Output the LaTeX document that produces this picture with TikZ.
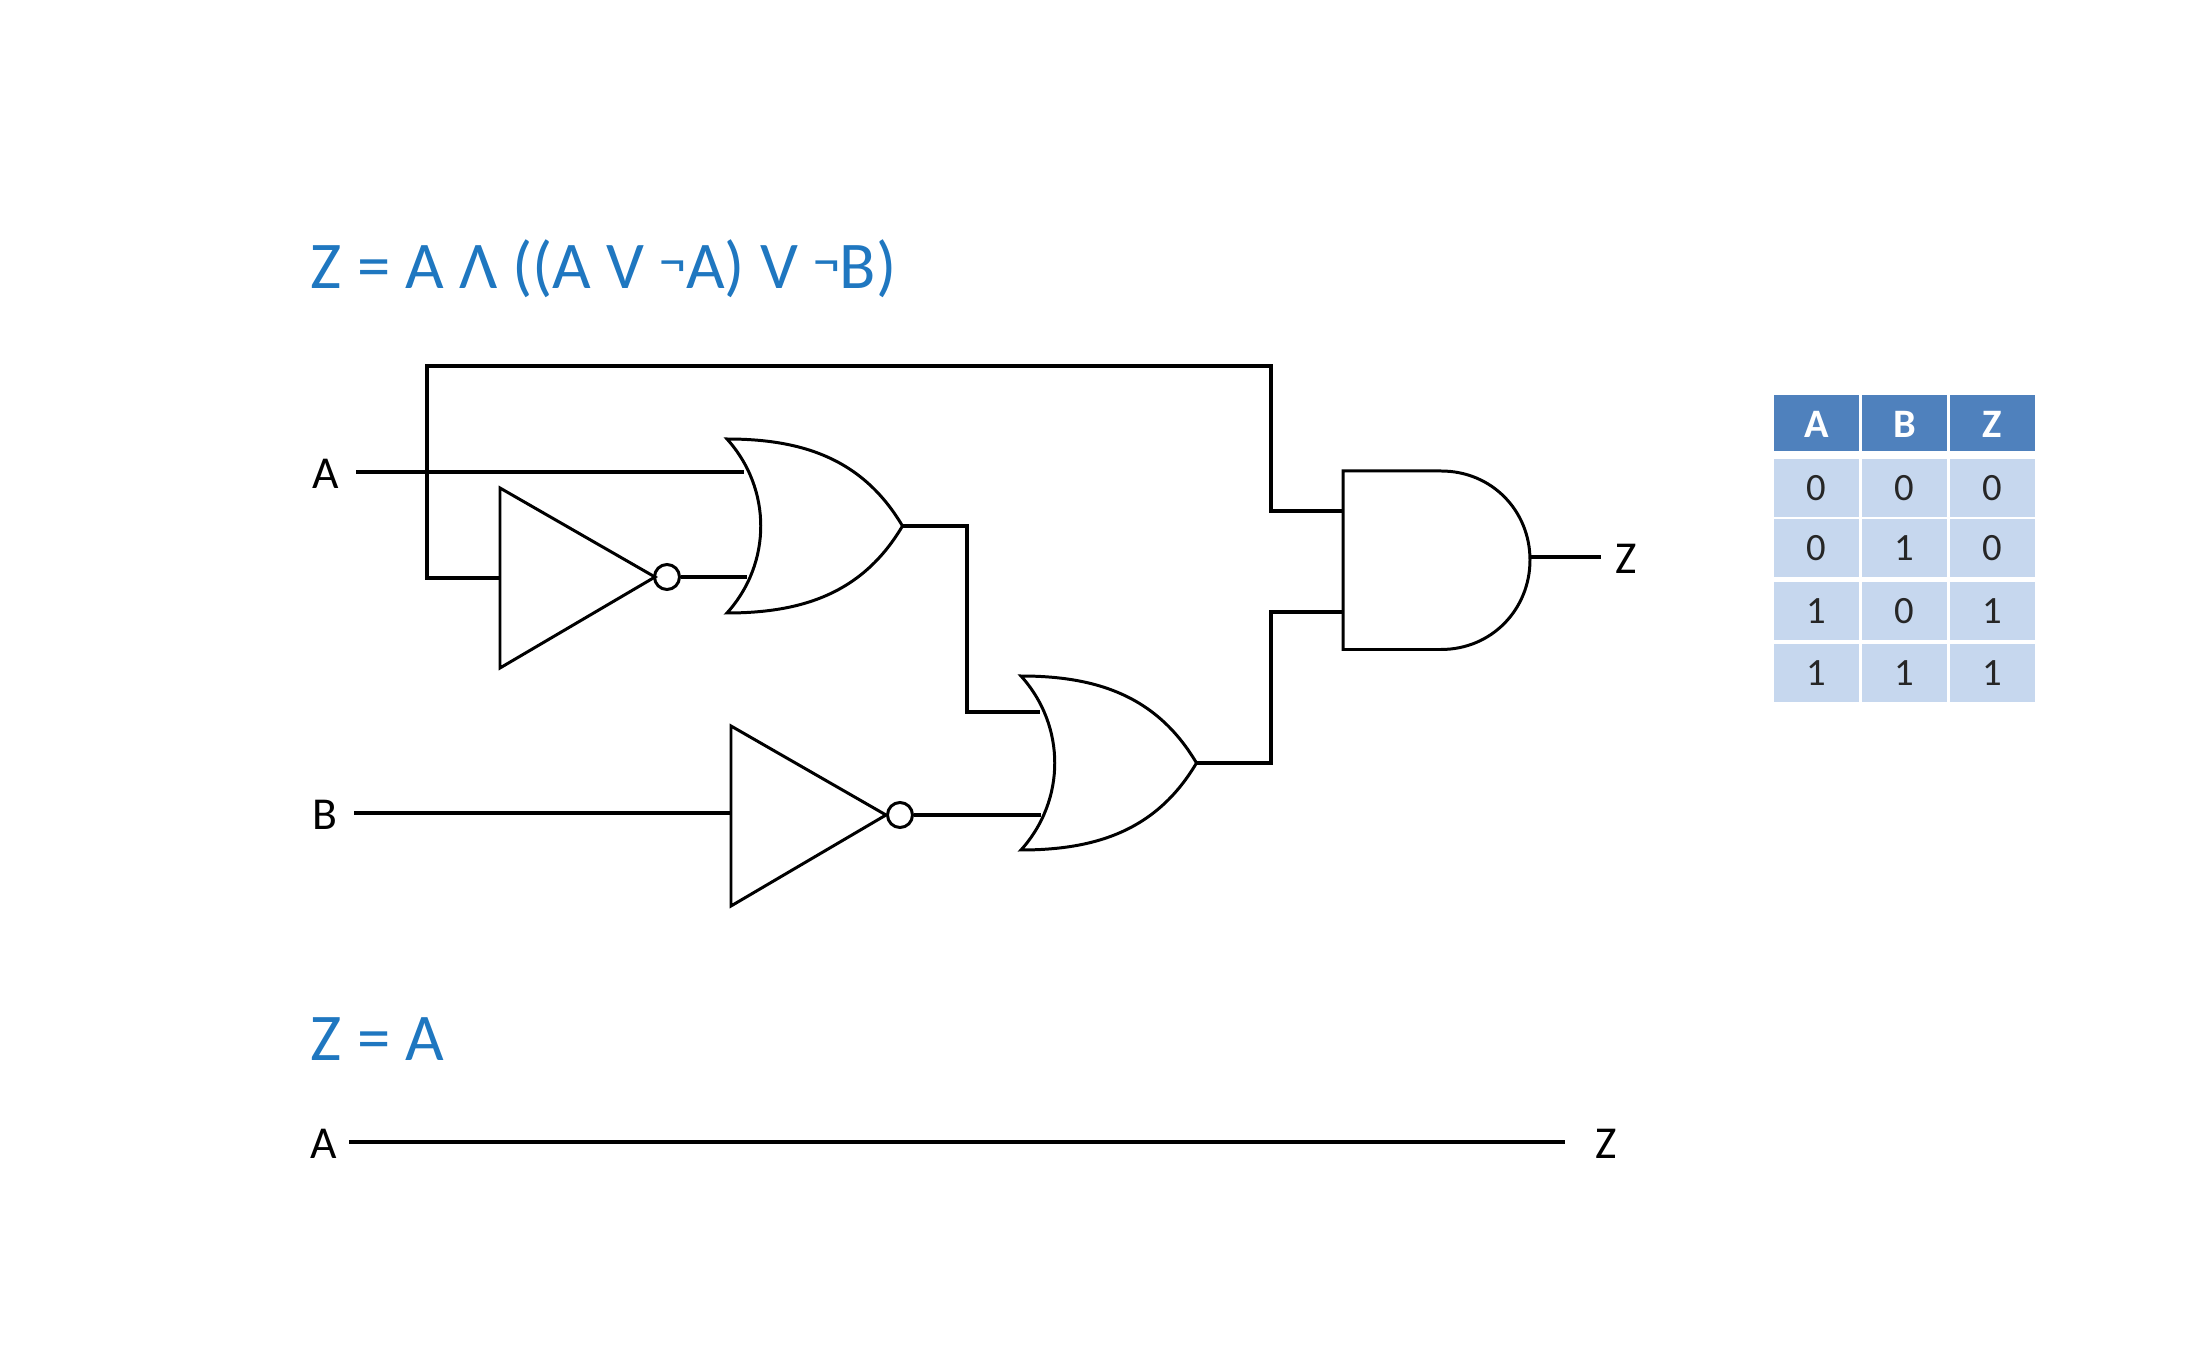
\documentclass[tikz,border=0pt]{standalone}
\usepackage{fontspec}
\setmainfont{Carlito}
\usepackage{xcolor}
\definecolor{titleblue}{HTML}{1F77C0}
\definecolor{headblue}{HTML}{4F81BD}
\definecolor{rowblue}{HTML}{C6D7EE}
\tikzset{
  wire/.style={
    line width=1pt,
    line join=miter
  },
  gate/.style={
    line width=0.85pt,
    line join=miter
  },
  bubble/.style={
    shape = circle,
    draw,
    line width=0.85pt,
    inner sep = 0pt,
    minimum size = 0.25cm
  },
  title/.style={
    anchor = base west,
    text = titleblue,
    inner sep = 0pt,
    font = \fontsize{19}{23}\selectfont
  },
  pinlabel/.style={
    inner sep = 0pt,
    minimum height = 0.5cm,
    font = \fontsize{13}{16}\selectfont
  },
  headcell/.style={
    fill = headblue,
    text = white,
    minimum width = 0.85cm,
    minimum height = 0.56cm,
    inner sep = 0pt,
    font = \fontsize{11.5}{13}\selectfont\bfseries
  },
  bodycell/.style={
    fill = rowblue,
    text = black!85,
    minimum width = 0.85cm,
    minimum height = 0.58cm,
    inner sep = 0pt,
    font = \fontsize{11}{13}\selectfont
  }
}
\newcommand\OrGate[2]{
  \draw[gate,shift={(#1,#2)}] (0,0) .. controls (0.79,0) and (1.37,0.22) .. (1.755,0.87)
    .. controls (1.37,1.52) and (0.79,1.74) .. (0,1.74)
    .. controls (0.45,1.24) and (0.45,0.5) .. (0,0) -- cycle;
}
\newcommand\NotGate[2]{
  \draw[gate,shift={(#1,#2)}] (0,0) -- (1.55,0.89) -- (0,1.80) -- cycle;
}
\newcommand\Neg{\raisebox{0.3ex}{\scalebox{0.8}{¬}}}
\newcommand\Low[1]{\raisebox{-0.17cm}[0.25cm][0.25cm]{#1}}
\newcommand\HeadLow[1]{\raisebox{-0.145cm}[0.2cm][0.2cm]{#1}}
\begin{document}
\begin{tikzpicture}[y=-1cm]
    \useasboundingbox (0,0) rectangle (21.87,13.66);

    \node[title] (titlelong) at (3.10,2.89) {Z = A Λ ((A V \Neg A) V \Neg B)};
    \node[title] (titleshort) at (3.10,10.61) {Z = A};

    % gates
    \NotGate{5.00}{4.88}
    \NotGate{7.31}{7.26}
    \OrGate{7.27}{4.39}
    \OrGate{10.21}{6.76}
    \draw[gate] (13.43,4.71) -- (14.41,4.71) .. controls (14.92,4.71) and (15.30,5.11) .. (15.30,5.60)
        .. controls (15.30,6.09) and (14.92,6.495) .. (14.41,6.495) -- (13.43,6.495) -- cycle;

    \node[bubble] (notAbub) at (6.67,5.77) {};
    \node[bubble] (notBbub) at (9.00,8.15) {};

    \coordinate (notAin) at (5.00,5.78);
    \coordinate (notBin) at (7.31,8.13);
    \coordinate (orAup) at (7.44,4.72);
    \coordinate (orAdown) at (7.47,5.77);
    \coordinate (orAout) at (9.025,5.26);
    \coordinate (orBup) at (10.40,7.12);
    \coordinate (orBdown) at (10.41,8.15);
    \coordinate (orBout) at (11.965,7.63);
    \coordinate (andup) at (13.43,5.11);
    \coordinate (anddown) at (13.43,6.12);
    \coordinate (andout) at (15.30,5.57);

    % pin labels
    \node[pinlabel, anchor=east, minimum width=0.6cm] (inA) at (3.56,4.72) {\Low{A}\hspace{0.03cm}};
    \node[pinlabel, anchor=east, minimum width=0.6cm] (inB) at (3.54,8.13) {\hspace{0.03cm}\Low{B}};
    \node[pinlabel, anchor=west, minimum width=0.4cm] (outZ) at (16.01,5.57) {\hspace{0.08cm}\Low{Z}};
    \node[pinlabel, anchor=east, minimum width=0.6cm] (wireA) at (3.49,11.42) {\hspace{0.1cm}\Low{A}};
    \node[pinlabel, anchor=west, minimum width=0.4cm] (wireZ) at (15.65,11.42) {\hspace{0.3cm}\Low{Z}};

    % wires
    \draw[wire] (inA.east) -- (orAup);
    \draw[wire] (notAin) -- (4.27,5.78) -- (4.27,3.66) -- (12.71,3.66) -- (12.71,5.11) -- (andup);
    \draw[wire] (notAbub) -- (orAdown);
    \draw[wire] (orAout) -- (9.67,5.26) -- (9.67,7.12) -- (orBup);
    \draw[wire] (inB.east) -- (notBin);
    \draw[wire] (notBbub) -- (orBdown);
    \draw[wire] (orBout) -- (12.71,7.63) -- (12.71,6.12) -- (anddown);
    \draw[wire] (andout) -- (outZ.west);
    \draw[wire] (wireA.east) -- (wireZ.west);

    % table
    \node[headcell] (headA) at (18.165,4.23) {\HeadLow{A}};
    \node[headcell] (headB) at (19.045,4.23) {\HeadLow{B}};
    \node[headcell] (headZ) at (19.925,4.23) {\HeadLow{Z}};
    \node[bodycell] (rowAa) at (18.165,4.88) {0};
    \node[bodycell] (rowAb) at (19.045,4.88) {0};
    \node[bodycell] (rowAz) at (19.925,4.88) {0};
    \node[bodycell] (rowBa) at (18.165,5.485) {0};
    \node[bodycell] (rowBb) at (19.045,5.485) {1};
    \node[bodycell] (rowBz) at (19.925,5.485) {0};
    \node[bodycell] (rowCa) at (18.165,6.11) {1};
    \node[bodycell] (rowCb) at (19.045,6.11) {0};
    \node[bodycell] (rowCz) at (19.925,6.11) {1};
    \node[bodycell] (rowDa) at (18.165,6.73) {1};
    \node[bodycell] (rowDb) at (19.045,6.73) {1};
    \node[bodycell] (rowDz) at (19.925,6.73) {1};
\end{tikzpicture}
\end{document}
